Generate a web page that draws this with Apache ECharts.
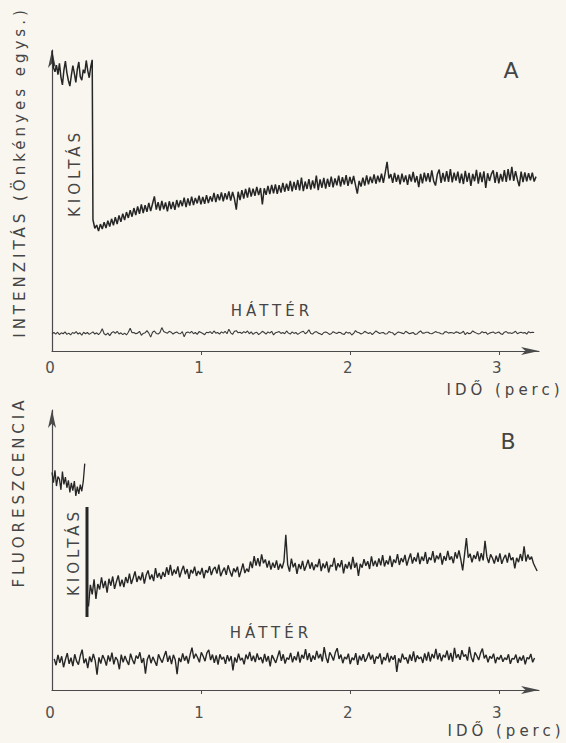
<!DOCTYPE html>
<html>
<head>
<meta charset="utf-8">
<script src="https://cdn.jsdelivr.net/npm/echarts@6/dist/echarts.min.js"></script>
<style>
  html, body { margin: 0; padding: 0; background: #f8f6ef; }
  #chart { width: 566px; height: 743px; }
  #chart text { letter-spacing: 4px; }
</style>
</head>
<body>
<div id="chart"></div>
<script>
// idő (perc) tengely
var xTicks = [0, 1, 2, 3];

// A panel: kioltás előtti szakasz (0 - 0.27 perc, 0.01 lépés)
var plateauStartA = 0, plateauStepA = 0.01;
var plateauA = [97.5, 92.0, 90.6, 92.8, 89.7, 93.4, 88.9, 86.4, 91.2, 94.1, 90.3, 87.8, 86.0, 89.5,
  92.6, 90.1, 87.2, 91.4, 93.8, 89.0, 87.9, 91.3, 90.2, 94.3, 91.0, 88.7, 92.2, 94.5];

// A panel: kioltás utáni szakasz (0.275 perctől, 0.0125 lépés)
var quenchStartA = 0.275, quenchStepA = 0.0125;
var quenchA = [
  42.6, 39.8, 40.9, 38.9, 41.2, 39.6, 41.8, 39.9, 42.3, 40.4, 42.9, 40.8, 43.4, 41.2, 44.0, 41.9, 44.6, 42.5, 45.1, 43.2,
  45.7, 43.6, 46.4, 44.1, 46.9, 44.5, 47.6, 44.8, 47.3, 45.2, 48.1, 45.4, 47.8, 50.2, 45.9, 48.3, 45.6, 48.7, 46.0, 48.2,
  45.3, 48.6, 46.1, 48.4, 45.8, 49.0, 46.6, 48.9, 47.0, 49.8, 46.7, 49.5, 47.2, 50.1, 47.4, 49.7, 47.9, 50.4, 47.6, 50.0,
  47.8, 50.6, 48.0, 50.2, 48.5, 51.3, 48.3, 50.9, 48.9, 51.5, 48.6, 51.2, 49.2, 51.8, 48.8, 51.6, 49.4, 45.9, 51.7, 49.0,
  52.2, 49.5, 52.6, 49.8, 53.0, 50.1, 52.7, 50.4, 53.3, 50.6, 52.9, 47.6, 52.8, 50.7, 53.6, 50.9, 53.9, 51.2, 54.1, 51.0,
  53.8, 51.4, 54.6, 51.7, 54.3, 52.0, 55.2, 51.8, 54.9, 52.3, 55.5, 52.1, 56.3, 51.9, 55.0, 52.6, 55.8, 52.4, 55.4, 52.8,
  56.9, 52.2, 55.7, 53.0, 56.2, 52.7, 55.9, 53.3, 56.6, 53.1, 56.0, 53.8, 56.9, 53.4, 56.4, 54.0, 57.1, 53.6, 56.5, 54.2,
  56.8, 53.9, 51.1, 55.2, 53.4, 56.3, 53.7, 57.0, 54.1, 56.6, 54.5, 57.3, 54.3, 56.9, 54.8, 57.6, 54.6, 57.9, 61.4, 56.0,
  57.4, 54.6, 57.8, 54.9, 57.2, 54.1, 57.6, 54.8, 57.0, 53.9, 57.3, 55.0, 58.1, 54.7, 56.8, 53.2, 57.5, 54.4, 57.9, 55.1,
  57.7, 54.8, 58.6, 55.2, 53.7, 57.4, 58.9, 54.6, 57.8, 55.0, 58.4, 54.9, 59.0, 54.7, 57.9, 55.3, 58.2, 54.5, 57.6, 54.2,
  58.5, 54.9, 57.8, 53.6, 57.5, 55.1, 58.8, 54.3, 58.0, 54.8, 58.3, 52.9, 57.7, 55.2, 57.4, 58.6, 54.6, 58.1, 54.4, 57.5,
  55.0, 58.7, 54.9, 59.0, 55.4, 59.8, 55.2, 58.4, 55.6, 53.5, 58.2, 54.8, 58.0, 55.1, 57.7, 55.4, 57.9, 55.0, 56.6];

// A panel: háttér (0 perctől, 0.0125 lépés)
var backStartA = 0, backStepA = 0.0125;
var backgroundA = [
  5.6, 6.0, 5.5, 6.1, 5.3, 5.9, 5.6, 6.2, 5.4, 5.8, 5.2, 6.0, 5.7, 6.3, 5.5, 5.9, 5.1, 6.1, 5.6, 6.0,
  5.4, 5.8, 6.2, 5.5, 5.9, 5.3, 6.0, 7.2, 5.6, 5.2, 5.8, 5.0, 5.9, 6.3, 5.7, 6.4, 5.5, 5.9, 5.3, 5.8,
  5.2, 6.1, 7.4, 5.9, 6.0, 5.6, 5.8, 6.4, 5.1, 5.7, 5.9, 6.6, 5.8, 4.5, 6.1, 6.5, 5.7, 5.5, 6.0, 7.6,
  6.3, 6.0, 5.8, 6.4, 6.1, 5.5, 5.9, 6.2, 5.7, 5.6, 6.3, 4.6, 5.9, 6.2, 5.8, 6.4, 5.6, 6.0, 5.4, 6.3,
  6.0, 5.7, 5.3, 6.1, 5.9, 6.3, 5.6, 6.5, 5.8, 6.0, 5.5, 6.2, 5.8, 6.4, 5.6, 7.1, 5.9, 5.4, 6.4, 6.6,
  5.9, 6.1, 5.7, 6.3, 5.9, 6.5, 5.6, 6.2, 5.4, 5.9, 6.1, 5.3, 5.8, 6.4, 6.0, 5.5, 6.2, 5.8, 6.4, 5.2,
  5.9, 6.1, 6.3, 5.7, 6.0, 5.6, 6.5, 5.8, 5.5, 6.2, 5.7, 6.0, 5.4, 5.8, 6.2, 6.4, 5.6, 6.0, 6.9, 5.7,
  5.5, 6.1, 6.3, 5.8, 5.6, 5.3, 6.0, 6.2, 5.9, 5.4, 5.6, 6.3, 5.9, 5.7, 6.1, 6.0, 5.5, 5.4, 6.2, 5.8,
  6.0, 5.2, 5.7, 6.6, 6.1, 5.9, 5.5, 5.8, 6.4, 6.0, 5.7, 6.0, 5.3, 5.9, 6.5, 6.1, 5.7, 5.9, 6.0, 5.5,
  5.6, 6.3, 6.0, 5.9, 5.2, 5.7, 6.2, 6.0, 5.8, 5.6, 6.4, 6.0, 5.6, 5.8, 6.0, 5.4, 5.5, 6.1, 6.5, 5.8,
  5.8, 6.1, 6.1, 5.7, 5.6, 5.9, 6.3, 6.0, 5.9, 5.6, 5.5, 6.2, 6.2, 5.8, 6.0, 5.9, 5.7, 6.2, 6.1, 5.7,
  5.9, 6.4, 5.3, 6.0, 5.6, 5.8, 6.5, 6.1, 5.8, 5.5, 5.7, 6.3, 5.9, 6.1, 5.4, 5.8, 6.0, 6.2, 5.7, 5.9,
  6.2, 5.6, 5.4, 6.1, 6.3, 5.8, 5.9, 5.7, 6.0, 6.4, 5.6, 5.9, 6.1, 5.8, 6.0, 5.5, 6.3, 5.9, 6.1, 6.0];

// B panel: kioltás előtti szakasz (0 - 0.22 perc, 0.01 lépés)
var plateauStartB = 0, plateauStepB = 0.01;
var plateauB = [75.5, 72.0, 76.3, 70.8, 74.1, 73.2, 69.5, 75.8, 71.4, 73.9, 70.2, 72.8, 68.6, 71.9,
  69.2, 72.5, 67.4, 70.6, 68.1, 71.3, 69.0, 72.4, 78.6];

// B panel: kioltás jele (függőleges vonal)
var quenchMarkTimeB = 0.235;
var quenchMarkB = [63.5, 25.3];

// B panel: kioltás utáni szakasz (0.245 perctől, 0.0125 lépés)
var quenchStartB = 0.245, quenchStepB = 0.0125;
var quenchB = [
  29.0, 36.5, 33.2, 38.4, 31.6, 36.8, 34.9, 39.1, 35.4, 37.9, 33.8, 38.6, 36.2, 39.4, 35.1, 37.6, 39.8, 36.0, 38.3, 35.7,
  39.2, 37.1, 40.4, 36.8, 38.9, 41.2, 37.5, 39.6, 38.1, 40.8, 36.9, 39.9, 41.5, 38.4, 40.1, 37.8, 42.3, 39.0, 40.6, 38.5,
  41.0, 39.3, 42.6, 40.0, 43.4, 39.7, 41.8, 40.3, 42.9, 39.1, 41.4, 43.1, 40.2, 42.0, 38.6, 41.7, 40.5, 42.8, 39.6, 41.3,
  40.1, 42.4, 38.8, 41.6, 40.7, 43.0, 39.9, 41.9, 42.7, 40.4, 43.5, 39.5, 41.2, 42.5, 40.0, 43.3, 41.1, 39.4, 42.2, 40.9,
  42.8, 39.2, 41.5, 43.9, 40.6, 42.1, 41.0, 44.6, 42.3, 46.5, 43.2, 45.8, 42.9, 47.1, 44.0, 45.3, 42.5, 44.9, 41.8, 44.2,
  42.4, 45.0, 41.7, 43.8, 42.2, 44.7, 53.9, 43.5, 41.1, 45.6, 42.6, 44.1, 40.3, 43.7, 42.0, 44.8, 41.4, 43.2, 45.2, 42.1,
  44.3, 41.6, 43.6, 42.7, 45.5, 41.3, 43.9, 42.3, 44.6, 40.8, 43.4, 42.9, 45.9, 41.5, 44.0, 42.6, 45.1, 40.5, 43.7, 42.2,
  44.5, 41.9, 46.2, 42.4, 44.2, 39.6, 43.8, 42.5, 45.4, 43.1, 44.7, 42.0, 46.4, 43.0, 44.9, 42.8, 45.7, 43.3, 46.8, 42.9,
  45.0, 43.6, 46.6, 42.7, 45.3, 44.1, 47.2, 43.4, 45.8, 44.4, 46.9, 43.2, 45.5, 47.4, 43.9, 46.1, 44.6, 47.7, 43.7, 46.3,
  44.8, 47.9, 43.8, 46.0, 45.1, 48.2, 44.2, 46.7, 45.4, 47.6, 43.5, 46.5, 44.9, 48.3, 45.2, 46.4, 44.0, 47.8, 45.6, 48.5,
  45.3, 41.5, 47.0, 52.7, 45.9, 47.3, 44.3, 46.8, 45.5, 48.1, 44.7, 47.5, 45.0, 51.8, 46.2, 44.1, 47.1, 45.8, 43.9, 46.6,
  44.5, 47.4, 43.8, 45.7, 46.9, 44.2, 47.6, 45.1, 46.0, 42.2, 45.9, 44.4, 47.2, 44.8, 49.9, 44.6, 47.0, 45.3, 46.3, 44.0,
  42.6, 41.3];

// B panel: háttér (0.015 perctől, 0.0125 lépés)
var backStartB = 0.015, backStepB = 0.0125;
var backgroundB = [
  10.8, 8.6, 12.2, 9.4, 11.7, 7.9, 10.6, 12.8, 9.1, 11.2, 8.3, 12.4, 10.0, 8.8, 11.9, 14.0, 9.3, 10.9, 7.6, 11.6,
  9.7, 12.5, 10.2, 5.3, 11.3, 9.2, 12.1, 10.7, 8.5, 12.0, 9.9, 13.0, 8.9, 11.4, 10.4, 7.2, 12.3, 9.6, 11.8, 10.1,
  8.7, 12.6, 10.5, 9.0, 11.9, 10.9, 13.1, 9.4, 11.1, 5.7, 10.6, 12.2, 9.3, 11.5, 10.0, 8.4, 12.4, 10.8, 9.5, 11.7,
  13.5, 9.8, 11.9, 9.0, 12.2, 10.5, 5.5, 11.2, 9.7, 12.7, 10.2, 11.8, 9.2, 12.3, 14.7, 10.9, 12.6, 11.3, 9.6, 13.1,
  11.7, 10.0, 12.9, 13.9, 10.4, 12.3, 9.4, 12.0, 8.8, 12.4, 10.6, 11.5, 9.1, 12.1, 10.0, 11.8, 6.8, 11.3, 9.5, 12.6,
  10.3, 11.1, 8.9, 12.3, 10.7, 13.2, 10.1, 11.9, 9.7, 12.7, 10.5, 11.4, 9.3, 12.5, 9.9, 11.8, 8.2, 12.1, 10.8, 9.4,
  11.6, 13.7, 10.1, 12.4, 9.2, 11.2, 10.6, 12.9, 9.6, 11.7, 10.3, 13.3, 9.5, 12.2, 10.9, 14.2, 10.4, 12.8, 9.8, 12.0,
  10.5, 13.6, 11.0, 12.5, 9.9, 14.9, 11.4, 9.4, 13.1, 11.9, 10.2, 13.0, 14.5, 10.8, 12.3, 9.3, 11.5, 10.7, 12.6, 9.0,
  11.2, 10.4, 12.8, 8.7, 11.9, 10.2, 12.4, 9.8, 11.1, 13.0, 10.6, 12.2, 9.1, 11.6, 10.9, 12.7, 8.9, 11.4, 10.3, 12.9,
  9.6, 11.8, 10.5, 12.1, 6.3, 11.0, 9.5, 12.6, 10.7, 11.3, 9.2, 12.3, 10.1, 13.4, 9.7, 12.0, 10.8, 11.5, 9.4, 12.7,
  10.2, 13.2, 9.9, 12.5, 11.0, 14.3, 10.6, 12.8, 10.0, 12.2, 11.3, 13.7, 10.4, 12.9, 9.8, 14.6, 11.1, 12.4, 10.5, 13.8,
  11.6, 12.3, 10.2, 15.0, 11.4, 9.7, 13.1, 11.9, 10.4, 12.8, 14.4, 11.0, 12.2, 9.6, 11.7, 10.9, 12.6, 9.3, 11.4, 10.6,
  12.1, 9.8, 11.2, 10.5, 12.4, 9.1, 11.0, 10.7, 12.3, 9.4, 11.5, 10.2, 12.0, 8.9, 11.3, 10.8, 12.5, 9.6, 11.1];

function toPairs(start, step, values) {
  return values.map(function (v, i) {
    return [+(start + i * step).toFixed(4), v];
  });
}

var ink = '#262626';
var textColor = '#454545';
var fontFamily = '"DejaVu Sans", "Noto Sans", sans-serif';

function makeX(gridIndex, labelMargin) {
  return {
    type: 'value',
    gridIndex: gridIndex,
    min: 0,
    max: 3.27,
    interval: 1,
    splitLine: { show: false },
    axisLine: {
      show: true,
      symbol: ['none', 'arrow'],
      symbolSize: [6, 18],
      lineStyle: { color: '#4a4a4a', width: 1.2 }
    },
    axisTick: {
      show: true,
      length: 4,
      customValues: [1, 2, 3],
      lineStyle: { color: '#4a4a4a', width: 1 }
    },
    axisLabel: {
      show: true,
      customValues: xTicks,
      margin: labelMargin,
      color: '#505050',
      fontSize: 15,
      fontFamily: fontFamily
    }
  };
}

function makeY(gridIndex, max) {
  return {
    type: 'value',
    gridIndex: gridIndex,
    min: 0,
    max: max,
    splitLine: { show: false },
    axisTick: { show: false },
    axisLabel: { show: false },
    axisLine: {
      show: true,
      onZero: false,
      symbol: ['none', 'arrow'],
      symbolSize: [6, 18],
      lineStyle: { color: '#4a4a4a', width: 1.2 }
    }
  };
}

function lineSeries(idx, data, width, color) {
  return {
    type: 'line',
    xAxisIndex: idx,
    yAxisIndex: idx,
    data: data,
    showSymbol: false,
    symbol: 'none',
    silent: true,
    lineStyle: { color: color, width: width }
  };
}

function label(text, x, y, size, rotate) {
  return {
    type: 'text',
    x: x,
    y: y,
    rotation: rotate ? Math.PI / 2 : 0,
    silent: true,
    style: {
      text: text,
      fill: textColor,
      font: size + 'px ' + fontFamily,
      textAlign: 'center',
      textVerticalAlign: 'middle'
    }
  };
}

var traceA = toPairs(plateauStartA, plateauStepA, plateauA).concat(toPairs(quenchStartA, quenchStepA, quenchA));

var option = {
  backgroundColor: '#f8f6ef',
  animation: false,
  grid: [
    { left: 52, top: 50, width: 487, height: 301 },
    { left: 52, top: 410, width: 487, height: 280 }
  ],
  xAxis: [makeX(0, 9), makeX(1, 15)],
  yAxis: [makeY(0, 97.7), makeY(1, 97.2)],
  series: [
    lineSeries(0, traceA, 1.5, ink),
    lineSeries(0, toPairs(backStartA, backStepA, backgroundA), 1.1, '#3a3a3a'),
    lineSeries(1, toPairs(plateauStartB, plateauStepB, plateauB), 1.3, ink),
    lineSeries(1, quenchMarkB.map(function (v) { return [quenchMarkTimeB, v]; }), 3, ink),
    lineSeries(1, toPairs(quenchStartB, quenchStepB, quenchB), 1.4, ink),
    lineSeries(1, toPairs(backStartB, backStepB, backgroundB), 1.4, ink)
  ],
  graphic: [
    label('INTENZITÁS (Önkényes egys.)', 20, 172, 15, true),
    label('A', 513, 70, 22, false),
    label('KIOLTÁS', 75, 173, 15, true),
    label('HÁTTÉR', 272, 311, 15, false),
    label('IDŐ (perc)', 505, 390, 15, false),
    label('FLUORESZCENCIA', 19, 492, 15, true),
    label('B', 510, 441, 22, false),
    label('KIOLTÁS', 74, 552, 15, true),
    label('HÁTTÉR', 271, 633, 15, false),
    label('IDŐ (perc)', 506, 731, 15, false)
  ]
};

var dom = document.getElementById('chart');
var myChart = echarts.init(dom, null, { renderer: 'svg' });
myChart.setOption(option);
</script>
</body>
</html>
